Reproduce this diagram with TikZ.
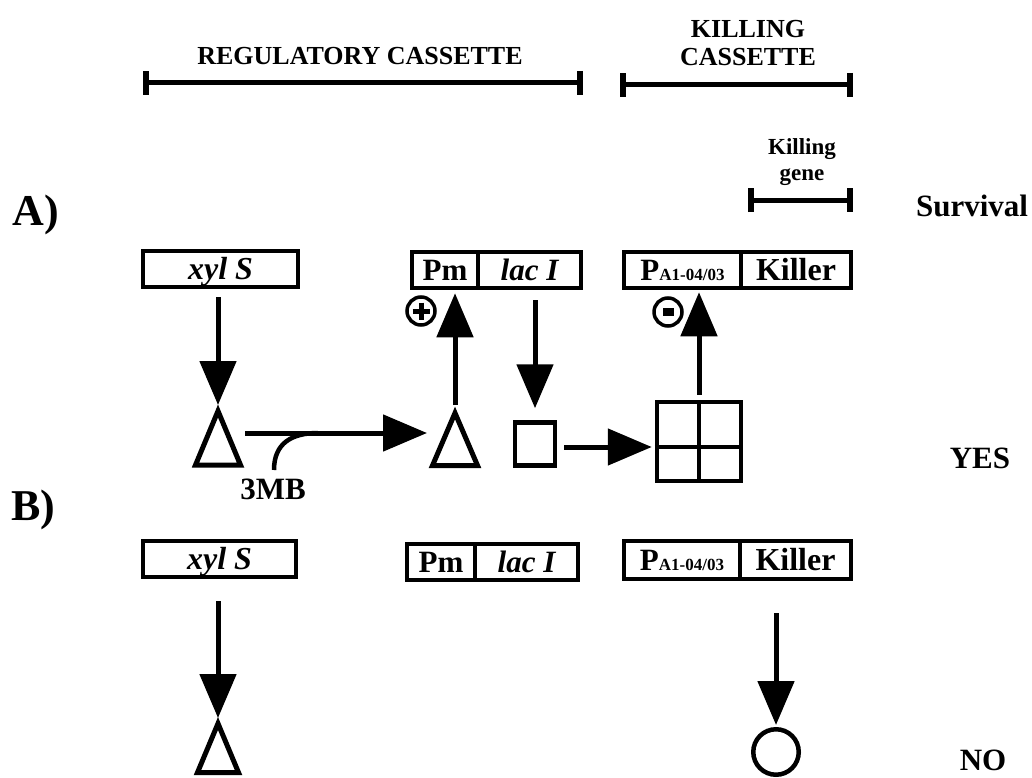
\documentclass[tikz,border=0pt]{standalone}
\usepackage{fontspec}
\setmainfont{Liberation Serif}
\usetikzlibrary{arrows.meta,calc}
\begin{document}
\begin{tikzpicture}[x=1pt,y=-1pt,
  fs/.style={font=\fontsize{#1}{#1}\selectfont\bfseries},
  box/.style={draw, line width=4.5pt, inner sep=0pt, minimum height=36pt, fs=31, text height=22pt, text depth=2pt},
  arr/.style={line width=5pt, -{Triangle[length=44pt,width=36pt]}},
  tri/.style={line width=5pt, line join=miter},
  rng/.style={line width=5pt, {Bar[width=24pt,line width=6pt]}-{Bar[width=24pt,line width=6pt]}},
  lbl/.style={inner sep=0pt, align=center},
  sign/.style={draw, circle, line width=3.5pt, minimum size=28pt, inner sep=0pt},
  figbox/.style={draw, line width=4.5pt, inner sep=0pt}
]
\useasboundingbox (0,0) rectangle (1032,778);

% headers
\node[lbl, fs=26] (reg) at (360,56) {REGULATORY CASSETTE};
\coordinate (regL) at (143,83); \coordinate (regR) at (583,83);
\draw[rng] (regL) -- (regR);
\node[lbl, font=\fontsize{26}{28}\selectfont\bfseries] (kil) at (748,43) {KILLING\\CASSETTE};
\coordinate (kilL) at (620,85); \coordinate (kilR) at (853,85);
\draw[rng] (kilL) -- (kilR);
\node[lbl, font=\fontsize{23}{26}\selectfont\bfseries] (kg) at (802,162) {Killing\\gene};
\coordinate (kgL) at (748,200); \coordinate (kgR) at (853,200);
\draw[rng] (kgL) -- (kgR);

\node[lbl, fs=31] (surv) at (972,206) {Survival};
\node[lbl, fs=44] (labA) at (36,215) {A)};
\node[lbl, fs=44] (labB) at (33,510) {B)};
\node[lbl, fs=31] (yes) at (980,458) {YES};
\node[lbl, fs=31] (no) at (983,760) {NO};

% row A boxes
\node[box, minimum width=155pt, fs=32] (xylA) at (220.5,269) {\itshape xyl S};
\node[box, minimum width=66pt] (pmA) at (445,270) {Pm};
\node[box, minimum width=103pt] (lacA) at (529.5,270) {\itshape lac I};
\node[box, minimum width=117pt] (paA) at (682.5,270) {P\fontsize{17}{17}\selectfont A1-04/03};
\node[box, minimum width=110pt, fs=32] (kilA) at (796,270) {Killer};

% row B boxes
\node[box, minimum width=153pt, fs=32] (xylB) at (219.5,559) {\itshape xyl S};
\node[box, minimum width=68pt] (pmB) at (441,562) {Pm};
\node[box, minimum width=103pt] (lacB) at (526.5,562) {\itshape lac I};
\node[box, minimum width=116pt, minimum height=38pt] (paB) at (682,560) {P\fontsize{17}{17}\selectfont A1-04/03};
\node[box, minimum width=111pt, minimum height=38pt, fs=32] (kilB) at (795.5,560) {Killer};

% triangles
\coordinate (t1) at (218,405);
\draw[tri] (218,411) -- (195.5,465) -- (240.5,465) -- cycle;
\coordinate (t2) at (455,407);
\draw[tri] (455,413) -- (432.5,465.5) -- (477.5,465.5) -- cycle;
\coordinate (t3) at (218,718);
\draw[tri] (218,723.5) -- (197.5,772.5) -- (238.5,772.5) -- cycle;

% square, grid, circle
\node[figbox, minimum width=40pt, minimum height=43pt] (sq) at (535,444) {};
\node[figbox, minimum width=84pt, minimum height=79pt] (grid) at (699,441.5) {};
\coordinate (gmid) at (699,447);
\draw[line width=4.5pt] (grid.north) -- (grid.south);
\draw[line width=4.5pt] (grid.west |- gmid) -- (grid.east |- gmid);
\node[figbox, circle, minimum size=45.5pt] (circ) at (776,752) {};

% signs
\node[sign] (plus) at (421,311) {};
\draw[line width=5pt] ($(plus.center)+(-8.5,0)$) -- ($(plus.center)+(8.5,0)$);
\draw[line width=5pt] ($(plus.center)+(0,-8.5)$) -- ($(plus.center)+(0,8.5)$);
\node[sign] (minus) at (668,312) {};
\fill ($(minus.center)+(-5.5,-4)$) rectangle ($(minus.center)+(5.5,4)$);

% 3MB
\node[lbl, fs=31] (mb) at (273,489) {3MB};
\coordinate (mbtop) at (274,470);
\coordinate (hs) at (245,433);
\coordinate (he) at (427,433);
\coordinate (join) at (318,433);
\draw[line width=4.5pt] (mbtop) .. controls (274,443) and (292,433) .. (join);

% arrows
\draw[arr] ($(xylA.south -| t1)+(0,8)$) -- (t1);
\draw[arr] (hs) -- (he);
\draw[arr] ($(t2)+(0,-2)$) -- ($(pmA.south -| t2)+(0,3)$);
\draw[arr] ($(lacA.south -| sq)+(0,10)$) -- ($(sq.north)+(0,-12)$);
\draw[arr] ($(sq.east |- gmid)+(7,0)$) -- ($(grid.west |- gmid)+(-3,0)$);
\draw[arr] ($(grid.north)+(0,-5)$) -- ($(grid.north |- paA.south)+(0,2)$);
\draw[arr] ($(xylB.south -| t3)+(0,22)$) -- (t3);
\draw[arr] ($(kilB.south -| circ)+(0,32)$) -- ($(circ.north)+(0,-2)$);
\end{tikzpicture}
\end{document}
